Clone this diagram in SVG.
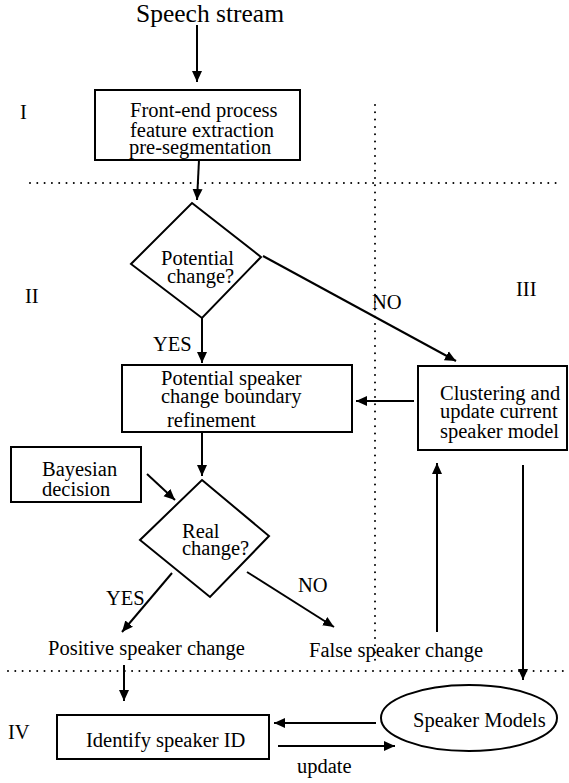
<svg xmlns="http://www.w3.org/2000/svg" width="569" height="783" viewBox="0 0 569 783" font-family="'Liberation Serif', 'DejaVu Serif', serif">
<defs>
<style>
text{font-family:'Liberation Serif','DejaVu Serif',serif;font-size:20.5px;fill:#000}
.big{font-size:25.5px}
.shape{fill:#fff;stroke:#000;stroke-width:2}
.conn{fill:none;stroke:#000;stroke-width:2}
.dot{fill:none;stroke:#000;stroke-width:2;stroke-dasharray:0 7.3;stroke-linecap:round}
</style>
<marker id="arr" markerUnits="userSpaceOnUse" markerWidth="12" markerHeight="12" viewBox="0 0 12 12" refX="11" refY="6" orient="auto">
<path d="M0,1 L11,6 L0,11 Z" fill="#000"/>
</marker>
</defs>
<rect width="569" height="783" fill="#fff"/>
<g id="dividers">
<line class="dot" x1="30" y1="183" x2="562" y2="183"/>
<line class="dot" x1="375" y1="105" x2="375" y2="662"/>
<line class="dot" x1="8" y1="671" x2="569" y2="671"/>
</g>
<g id="labels">
<text class="big" x="136" y="22">Speech stream</text>
<text x="20" y="119">I</text>
<text x="25" y="303">II</text>
<text x="516" y="296">III</text>
<text x="8" y="739">IV</text>
</g>
<g id="connectors">
<line class="conn" x1="197" y1="25" x2="197" y2="82" marker-end="url(#arr)"/>
<line class="conn" x1="199" y1="160" x2="197" y2="200" marker-end="url(#arr)"/>
<line class="conn" x1="263" y1="256" x2="456" y2="361" marker-end="url(#arr)"/>
<line class="conn" x1="202" y1="318" x2="202" y2="363" marker-end="url(#arr)"/>
<line class="conn" x1="414" y1="401" x2="356" y2="401" marker-end="url(#arr)"/>
<line class="conn" x1="202" y1="432" x2="202" y2="476" marker-end="url(#arr)"/>
<line class="conn" x1="147" y1="474" x2="175" y2="500" marker-end="url(#arr)"/>
<line class="conn" x1="172" y1="573" x2="122" y2="632" marker-end="url(#arr)"/>
<line class="conn" x1="247" y1="572" x2="334" y2="627" marker-end="url(#arr)"/>
<line class="conn" x1="437" y1="632" x2="437" y2="463" marker-end="url(#arr)"/>
<line class="conn" x1="523" y1="465" x2="523" y2="680" marker-end="url(#arr)"/>
<line class="conn" x1="124" y1="665" x2="124" y2="701" marker-end="url(#arr)"/>
<line class="conn" x1="376" y1="723" x2="274" y2="723" marker-end="url(#arr)"/>
<line class="conn" x1="278" y1="746" x2="395" y2="746" marker-end="url(#arr)"/>
<text x="372" y="309">NO</text>
<text x="153" y="351">YES</text>
<text x="106" y="605">YES</text>
<text x="298" y="592">NO</text>
<text x="297" y="773">update</text>
</g>
<g id="frontend">
<rect class="shape" x="95" y="90" width="205" height="70"/>
<text x="130" y="117">Front-end process</text>
<text x="130" y="137">feature extraction</text>
<text x="129" y="154">pre-segmentation</text>
</g>
<g id="potential-change">
<polygon class="shape" points="192,203 261,257 202,318 131,264"/>
<text x="161" y="265">Potential</text>
<text x="167" y="283">change?</text>
</g>
<g id="refinement">
<rect class="shape" x="122" y="365" width="230" height="67"/>
<text x="161" y="385">Potential speaker</text>
<text x="161" y="403">change boundary</text>
<text x="167" y="427">refinement</text>
</g>
<g id="clustering">
<rect class="shape" x="418" y="366" width="149" height="84"/>
<text x="440" y="400">Clustering and</text>
<text x="440" y="418">update current</text>
<text x="440" y="438">speaker model</text>
</g>
<g id="bayesian">
<rect class="shape" x="11" y="447" width="130" height="55"/>
<text x="42" y="476">Bayesian</text>
<text x="42" y="496">decision</text>
</g>
<g id="real-change">
<polygon class="shape" points="202,480 269,536 210,597 140,540"/>
<text x="182" y="538">Real</text>
<text x="182" y="555">change?</text>
</g>
<g id="positive">
<text x="48" y="655">Positive speaker change</text>
</g>
<g id="false">
<text x="309" y="657">False speaker change</text>
</g>
<g id="speaker-models">
<ellipse class="shape" cx="469" cy="718" rx="88" ry="33"/>
<text x="413" y="727">Speaker Models</text>
</g>
<g id="identify">
<rect class="shape" x="57" y="715" width="212" height="44"/>
<text x="86" y="747">Identify speaker ID</text>
</g>
</svg>
